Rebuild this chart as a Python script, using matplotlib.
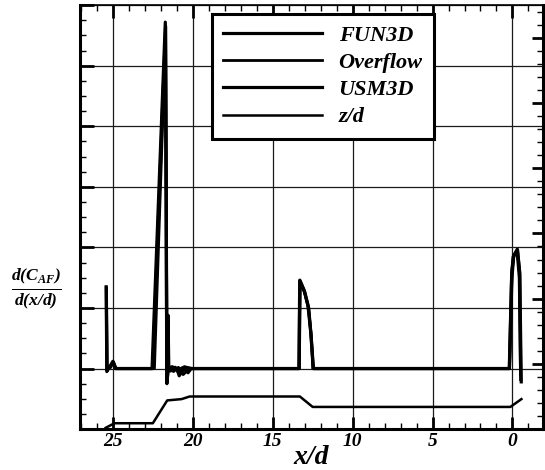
import numpy as np
import matplotlib.pyplot as plt
from matplotlib.ticker import MultipleLocator, NullFormatter

plt.rcParams['font.family'] = 'Liberation Serif'
plt.rcParams['font.weight'] = 'bold'
plt.rcParams['font.style'] = 'italic'
plt.rcParams['axes.labelweight'] = 'bold'
plt.rcParams['mathtext.fontset'] = 'custom'
plt.rcParams['mathtext.rm'] = 'Liberation Serif:bold:italic'
plt.rcParams['mathtext.it'] = 'Liberation Serif:bold:italic'
plt.rcParams['mathtext.bf'] = 'Liberation Serif:bold:italic'

# axial force distribution along the body
fun3d_x = [25.42, 25.38, 25.2, 25.0, 24.85, 22.55, 21.72, 21.62, 21.55, 21.5, 21.3, 21.0,
           20.85, 20.75, 20.5, 20.3, 20.1, 13.35, 13.3, 13.0, 12.75, 12.6, 12.45,
           0.2, 0.05, -0.05, -0.3, -0.45, -0.52]
fun3d_y = [1.35, -0.05, 0.03, 0.12, 0.0, 0.0, 5.72, -0.25, 0.88, 0.0, 0.03, 0.0,
           -0.12, 0.0, 0.03, -0.07, 0.0, 0.0, 1.46, 1.27, 1.0, 0.55, 0.0,
           0.0, 1.55, 1.85, 1.97, 1.6, -0.18]

overflow_x = [25.4, 25.36, 25.1, 24.95, 24.8, 22.4, 21.7, 21.6, 21.5, 21.2, 20.9,
              20.6, 20.2, 13.33, 13.28, 13.0, 12.75, 12.58, 12.48,
              0.18, 0.02, -0.1, -0.28, -0.42, -0.5]
overflow_y = [1.3, 0.0, 0.05, 0.1, 0.0, 0.0, 5.55, -0.2, 0.0, -0.05, 0.02,
              -0.1, 0.0, 0.0, 1.42, 1.25, 0.98, 0.5, 0.0,
              0.0, 1.5, 1.88, 1.93, 1.5, -0.1]

usm3d_x = [25.41, 25.37, 25.15, 24.98, 24.82, 22.5, 21.7, 21.63, 21.58, 21.52, 21.4,
           21.1, 20.8, 20.4, 20.05, 13.36, 13.31, 13.05, 12.8, 12.62, 12.47,
           0.19, 0.04, -0.06, -0.32, -0.46, -0.55]
usm3d_y = [1.33, 0.0, 0.02, 0.11, 0.0, 0.0, 5.65, -0.1, 0.5, 0.0, -0.04,
           0.02, -0.1, 0.02, 0.0, 0.0, 1.45, 1.3, 1.05, 0.6, 0.0,
           0.0, 1.6, 1.84, 1.96, 1.55, -0.22]

# body radius profile
zd_x = [25.45, 24.9, 22.5, 21.6, 20.7, 20.2, 13.3, 12.5, 0.13, -0.56]
zd_y = [0.02, 0.09, 0.09, 0.44, 0.46, 0.5, 0.5, 0.34, 0.34, 0.46]

xticks = [25, 20, 15, 10, 5, 0]

fig = plt.figure(figsize=(5.45, 4.70), dpi=100)
ax = fig.add_axes([0.147, 0.087, 0.849, 0.902])
ax2 = ax.twinx()

l1, = ax.plot(fun3d_x, fun3d_y, color='black', lw=2.3, label='FUN3D')
l2, = ax.plot(overflow_x, overflow_y, color='black', lw=2.0, label='Overflow')
l3, = ax.plot(usm3d_x, usm3d_y, color='black', lw=2.3, label='USM3D')
l4, = ax2.plot(zd_x, zd_y, color='black', lw=1.8, label='z/d')

ax.set_xlim(27.05, -1.9)
ax.set_ylim(-1, 6)
ax2.set_ylim(0, 6.5)

ax.set_xticks(xticks)
ax.set_xticklabels([str(t) for t in xticks])
ax.xaxis.set_minor_locator(MultipleLocator(1))
ax.yaxis.set_major_locator(MultipleLocator(1))
ax.yaxis.set_minor_locator(MultipleLocator(0.25))
ax.yaxis.set_major_formatter(NullFormatter())
ax2.yaxis.set_major_locator(MultipleLocator(1))
ax2.yaxis.set_minor_locator(MultipleLocator(0.2))
ax2.yaxis.set_major_formatter(NullFormatter())

ax.grid(True, which='major', color='0.1', lw=0.9)
ax.set_axisbelow(True)

ax.tick_params(axis='x', which='both', direction='in', top=True, labelsize=14, pad=3)
ax.tick_params(axis='x', which='major', length=9, width=2)
ax.tick_params(axis='x', which='minor', length=4, width=1)
ax.tick_params(axis='y', which='major', direction='in', length=10, width=2, right=False)
ax.tick_params(axis='y', which='minor', direction='in', length=4, width=1, right=False)
ax2.tick_params(axis='y', which='major', direction='in', length=8, width=2)
ax2.tick_params(axis='y', which='minor', direction='in', length=4, width=1)

for s in ['left', 'bottom', 'right']:
    ax.spines[s].set_linewidth(2.2)
ax.spines['top'].set_linewidth(1.2)
for s in ax2.spines.values():
    s.set_visible(False)

ax.set_xlabel('x/d', fontsize=20, labelpad=-4)
fig.text(0.066, 0.385, r'$\frac{d(C_{AF})}{d(x/d)}$', fontsize=18,
         ha='center', va='center')

leg = ax.legend(handles=[l1, l2, l3, l4], loc='upper left',
                bbox_to_anchor=(0.285, 0.979), fontsize=16, frameon=True,
                fancybox=False, edgecolor='black', handlelength=4.45,
                handletextpad=0.75, labelspacing=0.3, borderpad=0.5,
                borderaxespad=0)
leg.get_frame().set_linewidth(2.2)
leg.get_frame().set_alpha(1)

fig.savefig('out.png', dpi=100)
